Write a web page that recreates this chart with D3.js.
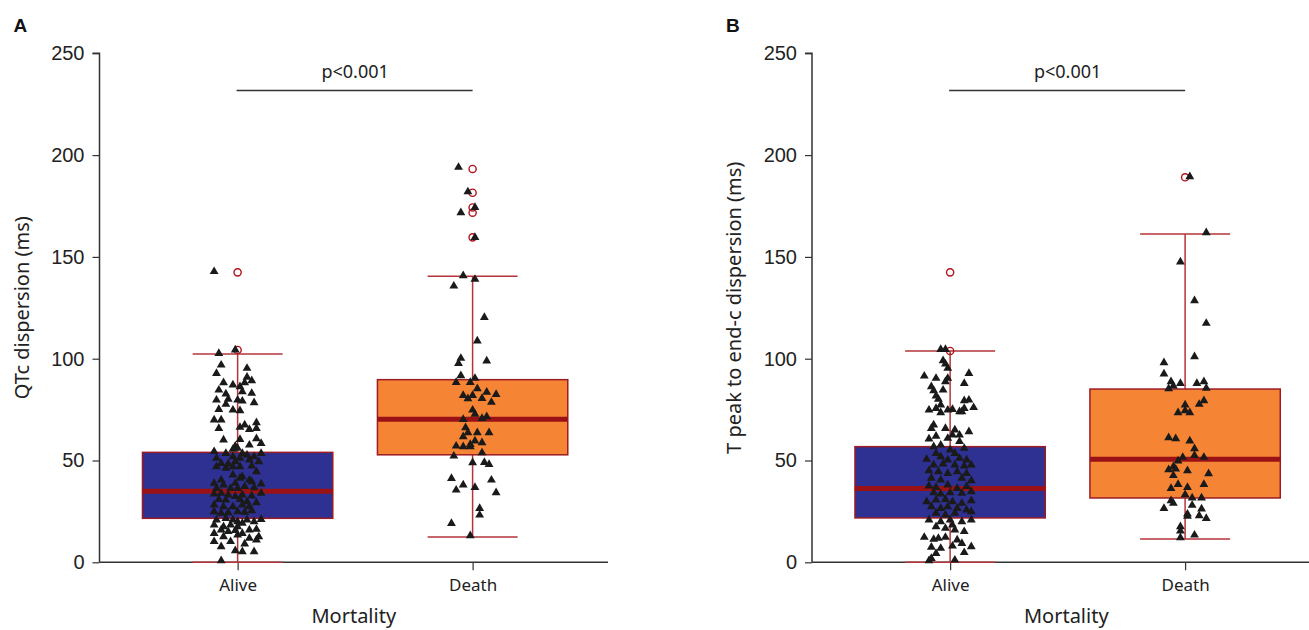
<!DOCTYPE html>
<html>
<head>
<meta charset="utf-8">
<script src="https://cdn.jsdelivr.net/npm/d3@7"></script>
<style>
  html, body { margin: 0; padding: 0; background: #fff; }
  svg { display: block; }
</style>
</head>
<body>
<svg id="chart" width="1309" height="630"></svg>
<script>
// ---------------- DATA ----------------
const categories = ["Alive", "Death"];
const yTickValues = [0, 50, 100, 150, 200, 250];
const yDomain = [0, 250];

// box stats: [whiskerLow, q1, median, q3, whiskerHigh]
const qtcAliveBox = [0, 21.6, 34.9, 54.0, 102.3];
const qtcDeathBox = [12.4, 52.8, 70.2, 89.7, 140.5];
const tpeAliveBox = [0, 21.8, 36.3, 56.8, 103.8];
const tpeDeathBox = [11.4, 31.6, 50.6, 85.1, 161.3];

// outliers (open circles)
const qtcAliveOutliers = [142.4, 104.3];
const qtcDeathOutliers = [193.2, 181.5, 174.3, 171.7, 159.6];
const tpeAliveOutliers = [142.4, 103.8];
const tpeDeathOutliers = [189.1];

// individual observations: [jitter (fraction of category step), value]
const qtcAlivePoints = [
  [-0.08,102.6],[-0.01,104.3],[-0.07,96.9],[0.04,95.3],[-0.09,92.8],[0.04,90.9],[0.06,89.2],[-0.06,88.2],
  [-0.02,87.1],[0.01,86.3],[0.03,88.2],[-0.08,84.6],[0.02,83.8],[-0.05,82.7],[0.06,83.0],[-0.09,79.7],
  [-0.04,80.1],[0.00,79.7],[0.02,79.2],[0.07,78.4],[-0.05,77.6],[-0.08,75.1],[-0.02,74.8],[0.01,74.5],
  [-0.10,69.9],[-0.07,69.9],[0.03,67.5],[0.08,68.6],[-0.08,65.8],[0.01,66.3],[0.05,65.3],[0.08,65.8],
  [-0.06,60.1],[0.01,60.4],[0.08,60.7],[0.05,57.6],[0.10,58.4],[-0.01,57.1],[-0.02,55.5],[0.00,56.0],
  [-0.10,54.4],[-0.05,53.5],[0.02,53.5],[0.04,52.7],[0.10,53.5],[-0.09,51.1],[-0.02,51.9],[0.07,51.9],
  [0.01,51.1],[-0.07,48.6],[-0.04,48.3],[-0.01,49.4],[0.05,50.3],[0.09,49.4],[-0.09,47.0],[-0.05,46.2],
  [-0.02,47.0],[0.01,47.0],[0.06,47.3],[0.08,44.5],[0.02,42.1],[-0.02,42.9],[-0.07,40.4],[0.01,41.3],
  [0.05,40.4],[-0.10,38.8],[-0.06,38.0],[-0.01,38.8],[0.06,39.6],[0.10,38.5],[-0.09,36.3],[-0.03,36.3],
  [0.00,36.3],[0.03,37.2],[0.07,36.7],[-0.10,33.6],[-0.07,33.9],[-0.04,33.1],[-0.01,32.3],[0.02,33.1],
  [0.06,32.6],[0.10,33.9],[-0.08,30.9],[-0.05,30.6],[0.01,30.9],[0.04,29.8],[0.08,29.3],[-0.10,28.2],
  [-0.06,27.3],[-0.02,27.3],[0.02,28.2],[0.05,27.3],[-0.10,24.9],[-0.07,24.1],[-0.04,24.4],[0.00,24.9],
  [0.03,24.6],[0.06,25.4],[-0.09,20.8],[-0.05,21.6],[-0.02,20.8],[0.00,20.0],[0.04,20.8],[0.10,21.1],
  [0.07,20.0],[-0.10,18.3],[-0.06,17.5],[-0.03,18.3],[0.00,17.5],[0.02,19.2],[-0.07,15.9],[-0.04,15.1],
  [-0.01,15.6],[0.05,15.9],[0.08,16.2],[-0.10,14.2],[-0.06,12.6],[0.00,13.4],[0.02,14.2],[0.05,11.8],
  [0.09,12.6],[-0.10,10.2],[-0.03,10.2],[0.03,9.0],[0.08,11.0],[-0.07,7.7],[-0.01,5.7],[0.02,5.2],
  [0.07,5.2],[-0.07,0.8],[-0.10,142.8]
];
const qtcDeathPoints = [
  [-0.06,194.0],[-0.02,182.0],[0.01,174.3],[-0.05,171.7],[0.01,159.6],[-0.04,140.8],[0.01,139.0],[-0.08,135.7],
  [0.05,120.3],[0.02,108.7],[-0.05,100.2],[-0.06,97.7],[0.06,98.9],[-0.05,91.7],[-0.07,88.4],[-0.01,88.4],
  [0.01,90.4],[0.02,85.3],[0.06,83.6],[-0.04,82.0],[-0.02,80.4],[0.00,82.0],[0.04,80.5],[0.10,82.5],
  [0.08,78.6],[0.00,74.8],[0.01,72.8],[-0.04,70.2],[0.04,70.7],[0.06,71.5],[-0.03,66.1],[-0.02,63.7],
  [0.02,63.7],[-0.04,61.7],[0.07,63.7],[0.01,59.6],[0.04,58.8],[-0.01,57.9],[-0.07,57.1],[-0.04,56.8],
  [-0.01,56.8],[0.04,53.8],[-0.08,52.2],[0.00,48.9],[0.05,49.1],[0.07,48.1],[-0.09,41.2],[0.08,40.4],
  [-0.04,38.0],[-0.07,35.5],[0.01,36.8],[0.10,34.2],[0.03,26.5],[0.03,23.2],[-0.09,19.1],[-0.01,13.1]
];
const tpeAlivePoints = [
  [-0.04,104.6],[-0.02,104.6],[-0.03,99.0],[-0.02,97.4],[-0.01,95.3],[-0.11,91.5],[-0.06,90.4],[-0.01,90.4],
  [0.08,92.8],[0.06,87.9],[-0.02,88.7],[-0.08,86.3],[-0.03,84.6],[-0.07,84.3],[-0.06,81.7],[-0.05,80.1],
  [0.06,79.4],[0.08,79.7],[-0.04,77.3],[-0.09,74.8],[-0.06,75.6],[-0.04,73.5],[-0.01,74.8],[0.01,75.1],
  [0.04,74.0],[0.05,74.0],[0.06,75.6],[0.10,76.0],[-0.07,67.5],[-0.08,65.8],[-0.02,65.8],[0.02,65.0],
  [0.04,62.5],[0.08,64.2],[-0.09,60.6],[-0.06,62.0],[-0.01,60.9],[0.01,62.5],[0.04,59.3],[-0.07,56.8],
  [-0.04,57.6],[0.06,56.0],[0.00,55.2],[-0.06,53.5],[0.02,53.5],[-0.10,50.6],[-0.04,51.9],[-0.01,50.3],
  [0.04,51.1],[0.07,50.3],[-0.07,47.8],[-0.03,48.3],[0.02,47.8],[0.06,47.3],[0.09,47.8],[-0.09,45.0],
  [-0.05,44.5],[-0.01,43.7],[0.03,44.5],[0.07,43.7],[-0.08,41.3],[-0.04,40.4],[0.05,41.3],[0.09,40.1],
  [-0.09,37.5],[-0.06,36.8],[-0.01,38.0],[0.03,36.3],[0.07,37.2],[-0.07,34.2],[-0.04,33.6],[0.00,34.2],
  [0.05,33.9],[0.09,34.7],[-0.10,29.8],[-0.06,30.6],[-0.02,30.9],[0.01,29.8],[0.05,29.0],[0.09,30.3],
  [-0.08,27.3],[-0.04,26.5],[-0.01,27.3],[0.03,26.5],[0.07,25.7],[0.09,24.9],[-0.06,24.1],[-0.02,23.2],
  [0.02,24.1],[-0.09,20.8],[-0.04,20.0],[0.00,20.8],[0.01,18.3],[0.05,20.0],[0.09,20.8],[-0.06,17.5],
  [-0.02,16.7],[0.02,15.9],[0.06,15.1],[-0.11,12.3],[-0.07,11.3],[-0.05,11.8],[-0.02,12.3],[0.03,11.0],
  [0.05,9.3],[0.09,7.7],[-0.08,7.4],[-0.04,6.9],[0.01,8.0],[-0.06,4.4],[0.06,4.8],[-0.08,1.9],
  [-0.09,0.8],[0.02,1.1]
];
const tpeDeathPoints = [
  [0.02,189.4],[0.09,161.9],[-0.02,147.5],[0.04,128.5],[0.09,117.4],[0.04,101.0],[-0.09,98.1],[-0.09,92.5],
  [-0.06,88.7],[-0.05,86.6],[-0.07,85.3],[-0.02,87.9],[0.05,87.9],[0.08,88.7],[0.09,85.5],[0.08,79.4],
  [0.06,77.6],[0.00,77.3],[-0.03,73.5],[0.00,74.5],[0.02,73.5],[-0.07,61.2],[-0.04,60.7],[0.02,59.6],
  [0.04,55.8],[0.04,52.5],[-0.01,51.6],[0.08,51.6],[-0.03,49.8],[-0.07,45.5],[-0.05,47.0],[-0.04,45.8],
  [0.01,45.0],[-0.05,42.6],[0.10,43.5],[-0.03,38.3],[0.01,36.8],[0.08,38.3],[-0.06,36.3],[0.00,33.2],
  [0.03,31.6],[0.07,31.6],[-0.06,30.3],[-0.05,29.0],[-0.09,26.5],[0.03,28.0],[0.01,23.7],[0.01,22.7],
  [0.07,26.2],[0.06,22.9],[0.09,21.6],[-0.02,17.5],[-0.02,15.4],[-0.02,12.1],[0.04,13.4]
];

const panelLabels = ["A", "B"];
const yTitles = ["QTc dispersion (ms)", "T peak to end-c dispersion (ms)"];
const xTitle = "Mortality";
const pLabel = "p<0.001";

// ---------------- DRAW ----------------
const svg = d3.select("#chart");
const boxFill = { Alive: "#2e3192", Death: "#f58535" };
const numFont = "'Liberation Sans', Arial, sans-serif";
const txtFont = "'Noto Sans', 'Open Sans', sans-serif";

const panels = [
  { left: 99.5, right: 608, label: panelLabels[0], title: yTitles[0], titleX: 29,
    boxes: { Alive: qtcAliveBox, Death: qtcDeathBox },
    outliers: { Alive: qtcAliveOutliers, Death: qtcDeathOutliers },
    points: { Alive: qtcAlivePoints, Death: qtcDeathPoints } },
  { left: 812, right: 1320.5, label: panelLabels[1], title: yTitles[1], titleX: 741,
    boxes: { Alive: tpeAliveBox, Death: tpeDeathBox },
    outliers: { Alive: tpeAliveOutliers, Death: tpeDeathOutliers },
    points: { Alive: tpeAlivePoints, Death: tpeDeathPoints } }
];

const y = d3.scaleLinear().domain(yDomain).range([562.3, 53.3]);
const triangle = d3.symbol().type(d3.symbolTriangle).size(34);

panels.forEach((p, pi) => {
  const x = d3.scalePoint().domain(categories).range([p.left, p.right]).padding(0.582).align(0.505);
  const step = x.step();
  const g = svg.append("g");

  // panel label
  g.append("text").attr("x", p.left - 86).attr("y", 32)
    .attr("font-family", numFont).attr("font-weight", "bold").attr("font-size", 19)
    .attr("fill", "#111").text(p.label);

  // y axis
  const yAxis = g.append("g").attr("transform", `translate(${p.left},0)`)
    .call(d3.axisLeft(y).tickValues(yTickValues).tickSize(7).tickPadding(8));
  yAxis.select(".domain").attr("stroke", "#333").attr("stroke-width", 1.5).attr("d", `M-7,${y(250)}H0V${y(0)}`);
  yAxis.selectAll(".tick line").attr("stroke", "#333").attr("stroke-width", 1.2);
  yAxis.selectAll(".tick text").attr("font-family", numFont).attr("font-size", 20).attr("fill", "#222");

  // x axis
  const xAxis = g.append("g").attr("transform", `translate(0,${y(0)})`)
    .call(d3.axisBottom(x).tickSize(8).tickPadding(6));
  xAxis.select(".domain").attr("stroke", "#333").attr("stroke-width", 1.5).attr("d", `M${p.left},0H${p.right}`);
  xAxis.selectAll(".tick line").attr("stroke", "#333").attr("stroke-width", 1.2);
  xAxis.selectAll(".tick text").attr("font-family", txtFont).attr("font-size", 17).attr("fill", "#222").attr("dy", "0.85em");

  // titles
  g.append("text").attr("x", (p.left + p.right) / 2).attr("y", 623)
    .attr("text-anchor", "middle").attr("font-family", txtFont).attr("font-size", 20).attr("fill", "#222").text(xTitle);
  g.append("text").attr("transform", `translate(${p.titleX},${(y(0) + y(250)) / 2}) rotate(-90)`)
    .attr("text-anchor", "middle").attr("font-family", txtFont).attr("font-size", 20).attr("fill", "#222").text(p.title);

  // significance bar
  g.append("line").attr("x1", x("Alive") - 1).attr("x2", x("Death")).attr("y1", 90.5).attr("y2", 90.5)
    .attr("stroke", "#333").attr("stroke-width", 1.5);
  g.append("text").attr("x", (x("Alive") + x("Death")) / 2).attr("y", 78)
    .attr("text-anchor", "middle").attr("font-family", txtFont).attr("font-size", 18).attr("fill", "#222").text(pLabel);

  categories.forEach(c => {
    const cx = x(c);
    const b = p.boxes[c];
    const bw = step * 0.81, cw = step * 0.383;
    // whisker line
    g.append("line").attr("x1", cx).attr("x2", cx).attr("y1", y(b[0])).attr("y2", y(b[4]))
      .attr("stroke", "#b5343a").attr("stroke-width", 1.5);
    // caps
    [b[0], b[4]].forEach(v => {
      g.append("line").attr("x1", cx - cw / 2).attr("x2", cx + cw / 2).attr("y1", y(v)).attr("y2", y(v))
        .attr("stroke", "#b5343a").attr("stroke-width", 1.5);
    });
    // box
    g.append("rect").attr("x", cx - bw / 2).attr("width", bw)
      .attr("y", y(b[3])).attr("height", y(b[1]) - y(b[3]))
      .attr("fill", boxFill[c]).attr("stroke", "#9b1c24").attr("stroke-width", 1.5);
    // median
    g.append("line").attr("x1", cx - bw / 2).attr("x2", cx + bw / 2).attr("y1", y(b[2])).attr("y2", y(b[2]))
      .attr("stroke", "#9a1215").attr("stroke-width", 5);
    // outliers
    g.selectAll(null).data(p.outliers[c]).join("circle")
      .attr("cx", cx).attr("cy", d => y(d)).attr("r", 3.6)
      .attr("fill", "none").attr("stroke", "#b0131b").attr("stroke-width", 1.4);
    // points
    g.selectAll(null).data(p.points[c]).join("path")
      .attr("d", triangle)
      .attr("transform", d => `translate(${cx + d[0] * step},${y(d[1])})`)
      .attr("fill", "#1a1a1a");
  });
});
</script>
</body>
</html>
